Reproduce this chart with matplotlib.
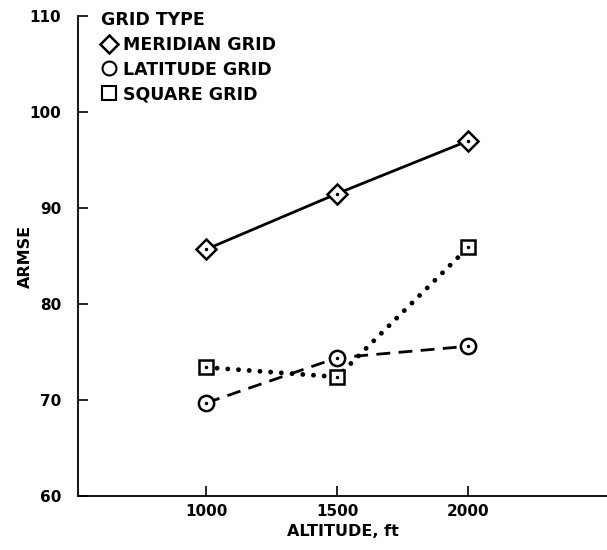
import matplotlib
matplotlib.use("Agg")
import matplotlib.pyplot as plt
from matplotlib.lines import Line2D

altitude = [1000, 1500, 2000]
meridian = [85.7, 91.5, 97.0]
latitude = [69.7, 74.4, 75.6]
square = [73.4, 72.4, 85.9]
xticks = [1000, 1500, 2000]
yticks = [60, 70, 80, 90, 100, 110]
legend_labels = ["MERIDIAN GRID", "LATITUDE GRID", "SQUARE GRID"]

plt.rcParams['font.family'] = ['DejaVu Sans']
plt.rcParams['font.weight'] = 'bold'

fig = plt.figure(figsize=(6.07, 5.5), dpi=100)
ax = fig.add_axes([78/607, 54/550, 1 - 78/607, (496-16)/550])

ax.plot(altitude, meridian, color='black', lw=2, ls='-', zorder=2)
ax.plot(altitude, latitude, color='black', lw=2, ls=(0, (5, 3)), zorder=2)
ax.plot(altitude, square, color='black', lw=3.5, ls=(0, (0.01, 2.2)),
        dash_capstyle='round', zorder=2)

ax.plot(altitude, meridian, ls='none', marker='D', ms=10, mfc='white', mec='black', mew=1.8, zorder=3)
ax.plot(altitude, latitude, ls='none', marker='o', ms=11, mfc='white', mec='black', mew=1.8, zorder=3)
ax.plot(altitude, square, ls='none', marker='s', ms=10.5, mfc='white', mec='black', mew=1.8, zorder=3)
for ys in (meridian, latitude, square):
    ax.plot(altitude, ys, ls='none', marker='o', ms=1.5, color='black', zorder=4)

ax.set_xlim(510, 2530)
ax.set_ylim(60, 110)
ax.set_xticks(xticks)
ax.set_yticks(yticks)
ax.set_xticklabels([str(v) for v in xticks], fontsize=11, fontweight='bold')
ax.set_yticklabels([str(v) for v in yticks], fontsize=11, fontweight='bold')
ax.tick_params(axis='both', direction='in', length=7, width=1.2)
ax.tick_params(axis='y', pad=12)
ax.tick_params(axis='x', pad=6)
for s in ('top', 'right'):
    ax.spines[s].set_visible(False)
ax.spines['left'].set_linewidth(1.3)
ax.spines['bottom'].set_linewidth(1.3)

ax.set_xlabel("ALTITUDE, ft", fontsize=11.5, fontweight='bold', labelpad=3)
ax.set_ylabel("ARMSE", fontsize=11.5, fontweight='bold')
ax.yaxis.set_label_coords(-0.085, 0.5)

handles = [
    Line2D([], [], ls='none', marker='D', ms=9, mfc='white', mec='black', mew=1.8),
    Line2D([], [], ls='none', marker='o', ms=10, mfc='white', mec='black', mew=1.5),
    Line2D([], [], ls='none', marker='s', ms=9.5, mfc='white', mec='black', mew=1.5),
]
leg = ax.legend(handles, legend_labels, title="GRID TYPE", loc='upper left',
                bbox_to_anchor=(0.02, 1.035), frameon=False,
                prop={'size': 12.5, 'weight': 'bold'}, handletextpad=0.3,
                handlelength=1.0, labelspacing=0.38, borderpad=0.2)
leg.get_title().set_fontsize(12.5)
leg.get_title().set_fontweight('bold')
leg._legend_box.align = 'left'

fig.savefig("out.png", dpi=100)
